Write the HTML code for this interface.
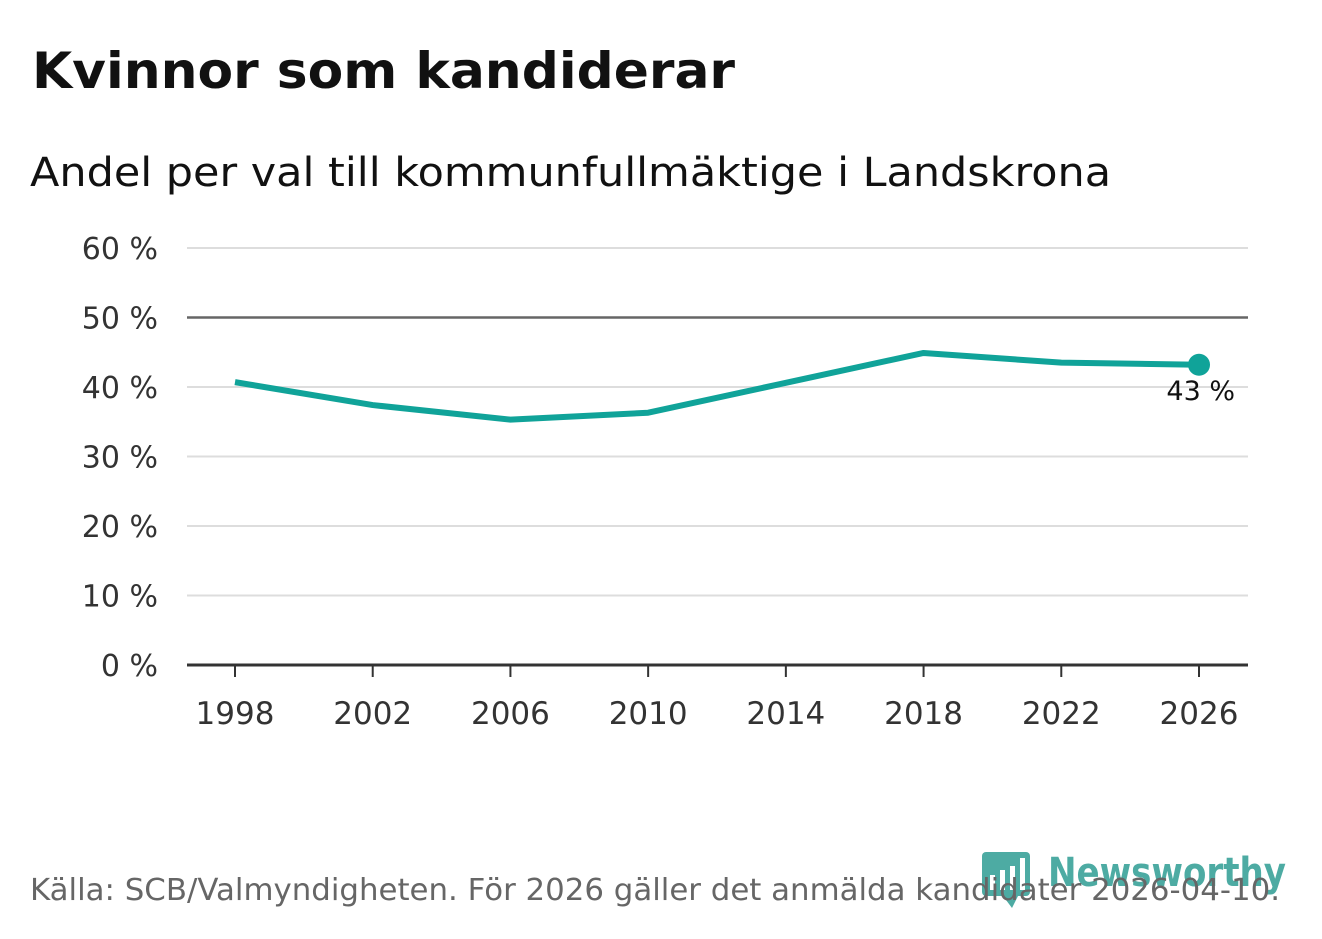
<!DOCTYPE html>
<html><head><meta charset="utf-8"><style>
html,body{margin:0;padding:0;background:#fff;width:1322px;height:939px;overflow:hidden;font-family:"DejaVu Sans","Liberation Sans",sans-serif;}
svg{display:block}
</style></head><body>
<svg width="1322" height="939">
<text x="32" y="88" font-size="50" font-weight="bold" fill="#111" textLength="703" lengthAdjust="spacingAndGlyphs">Kvinnor som kandiderar</text>
<text x="30" y="186" font-size="40" fill="#111" textLength="1081" lengthAdjust="spacingAndGlyphs">Andel per val till kommunfullmäktige i Landskrona</text>
<g id="grid"></g><g id="xaxis"></g><g id="series"></g>
<g opacity="0.9">
<rect x="982" y="852" width="48" height="44" rx="4" fill="#3aa39a"/>
<path d="M1003 896 L1012 908 L1018 896Z" fill="#3aa39a"/>
<rect x="990" y="875" width="5" height="15" fill="#fff"/><rect x="1000" y="870" width="5" height="20" fill="#fff"/><rect x="1010" y="866" width="5" height="24" fill="#fff"/><rect x="1020" y="858" width="5" height="32" fill="#fff"/>
<text x="1048" y="886" font-size="40" font-weight="bold" fill="#3aa39a" textLength="238" lengthAdjust="spacingAndGlyphs">Newsworthy</text>
</g>
<text x="30" y="900" font-size="30" fill="#666" textLength="1250" lengthAdjust="spacingAndGlyphs">Källa: SCB/Valmyndigheten. För 2026 gäller det anmälda kandidater 2026-04-10.</text>
</svg>
<script>
const years=[1998,2002,2006,2010,2014,2018,2022,2026];
const values=[40.7,37.4,35.3,36.3,40.6,44.9,43.5,43.2];
const yTicks=[0,10,20,30,40,50,60];
const NS="http://www.w3.org/2000/svg";
const x=v=>235+(v-1998)*(1199-235)/28;
const y=v=>665-v*(665-248)/60;
function mk(t,a,p){const e=document.createElementNS(NS,t);for(const k in a)e.setAttribute(k,a[k]);p.appendChild(e);return e;}
const grid=document.getElementById('grid');
yTicks.forEach(t=>{
 const l=mk('line',{x1:187,x2:1248,y1:y(t),y2:y(t),stroke:t===0?'#333':(t===50?'#666':'#ddd'),'stroke-width':t===0?3:(t===50?2.5:2)},grid);
 
 
 const tx=mk('text',{x:158,y:y(t)+11,'text-anchor':'end','font-size':30,fill:'#333'},grid);tx.textContent=t+' %';
 
 
});
const xa=document.getElementById('xaxis');
years.forEach(yr=>{
 mk('line',{x1:x(yr),x2:x(yr),y1:665,y2:677,stroke:'#333','stroke-width':2},xa);
 const tx=mk('text',{x:x(yr),y:724,'text-anchor':'middle','font-size':31,fill:'#333'},xa);tx.textContent=yr;
 
 
});
const s=document.getElementById('series');
const p=mk('polyline',{points:years.map((yr,i)=>x(yr)+','+y(values[i])).join(' '),fill:'none',stroke:'#10a399','stroke-width':6,'stroke-linejoin':'round'},s);


const n=years.length-1;
const c=mk('circle',{cx:x(years[n]),cy:y(values[n]),r:11,fill:'#10a399'},s);


const lb=mk('text',{x:x(years[n])+36,y:y(values[n])+35,'text-anchor':'end','font-size':27,fill:'#111'},s);
lb.textContent=Math.round(values[n])+' %';


</script>
</body></html>
